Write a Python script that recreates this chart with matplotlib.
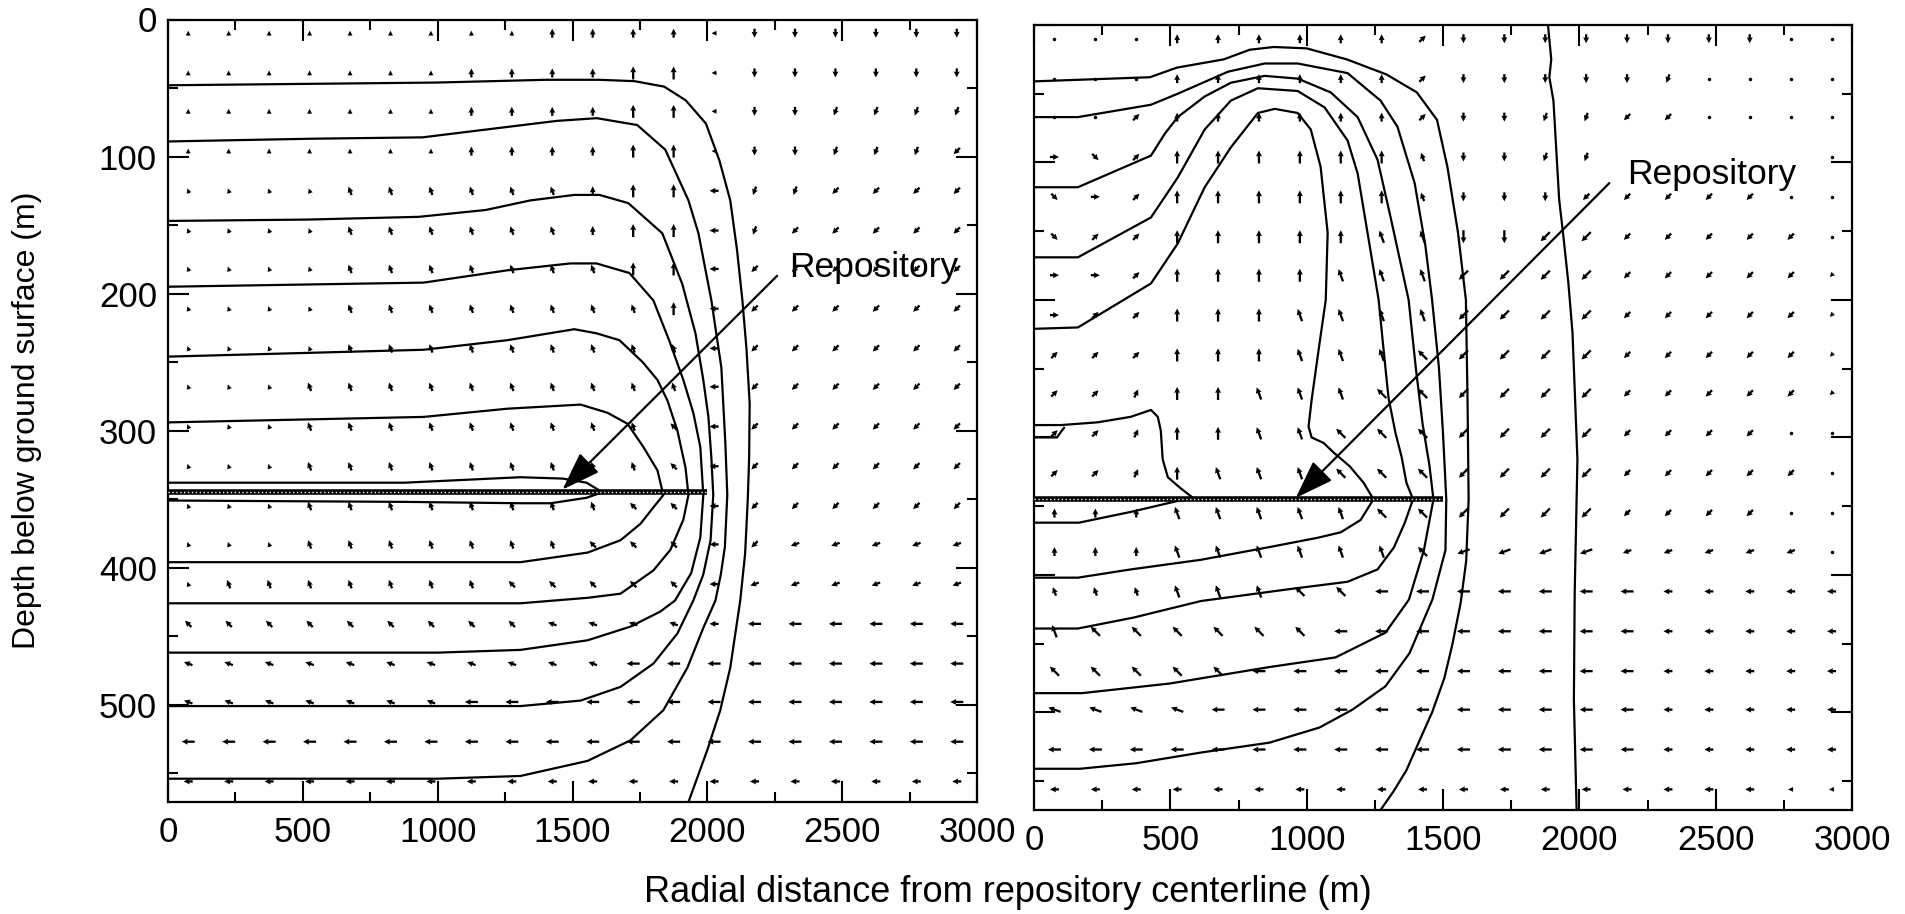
import numpy as np
import matplotlib
matplotlib.use("Agg")
import matplotlib.pyplot as plt

plt.rcParams['font.family'] = ['Liberation Sans', 'DejaVu Sans']

# =====================
# AXES / GRID DATA
# =====================
x_ticks = [0, 500, 1000, 1500, 2000, 2500, 3000]
y_ticks = [0, 100, 200, 300, 400, 500]
depth_max = 571
repository_depth = 345
repository_left_x = [0, 2000]
repository_right_x = [0, 1500]

arrow_x = [75, 225, 375, 525, 675, 825, 975, 1125, 1275, 1425,
           1575, 1725, 1875, 2025, 2175, 2325, 2475, 2625, 2775, 2925]
arrow_y = [10, 39, 67, 96, 125, 154, 182, 211, 240, 268,
           297, 326, 355, 383, 412, 441, 470, 498, 527, 556]

# direction codes (numpad style) -> screen angle in degrees
DIRS = {'6': 0, '9': 45, 'f': 65, '8': 90, 'a': 110, '7': 135, 'b': 160,
        '4': 180, 'c': 200, '1': 225, 'e': 250, '2': 270, '3': 315}
SIZES = {'1': 5, '2': 9, '3': 13}

left_dirs = [
    "88888888888884222222",
    "88888888888884222222",
    "8888888888888422eeee",
    "8888888888888422eee1",
    "aaaaaaaaaa8884ee1111",
    "aaaaaaaaaa8884e11111",
    "aaaaaaaaaaa884111111",
    "aaaaaaaaaaaa84111111",
    "aaaaaaaaaaaaa4111111",
    "aaaaaaaaaaaaa4111111",
    "aaaaaaaaaaaa74111111",
    "aaaaaaaaaaaa74111111",
    "aaaaaaaaaaa774111111",
    "aaaaaaaaaa77741ccccc",
    "aaaaaaaa777774cccccc",
    "777777777bbbb4444444",
    "bbbbbbbbbbb444444444",
    "bbbbbbb4444444444444",
    "44444444444444444444",
    "44444444444444444444",
]
left_sizes = [
    "11111111122221222222",
    "11111112222331222222",
    "11111112222331222222",
    "11111112222331222222",
    "11112222222332222222",
    "11112222222332222222",
    "11112222222332222222",
    "11112222222232222222",
    "11112222222222222222",
    "11122222222222222222",
    "11122222222222222222",
    "11122222222222222222",
    "11122222222222222222",
    "11122222222222222222",
    "12222222222222222222",
    "22222222222222333333",
    "22222222222333333333",
    "22222223333333333333",
    "33333333333333333333",
    "22222222222222222222",
]

right_dirs = [
    "...888888922222222..",
    "...888888922222e....",
    "..9888888922ee11....",
    "639888888a22ee     .",
    "369888888a22211111..",
    "39988888aa221111111.",
    "6698888aaa1111111111",
    "699888aaaa1111111111",
    "999888aaa71111111111",
    "99f88aaa771111111111",
    "99f88aa77711111111..",
    "99f8aaa777111111111.",
    "888aaaaa7711111111..",
    "888aaaaaa7ccccccccc.",
    "aaaaaa77444444444444",
    "a7777774444444444444",
    "77777444444444444444",
    "bbbb4444444444444444",
    "44444444444444444444",
    "44444444444444444444",
]
right_sizes = [
    "11122222222222222211",
    "11122222222222221111",
    "11222222222222221111",
    "22233333322222111112",
    "22233333322222222211",
    "22233333333333222221",
    "22233333333333222221",
    "22233333333333222221",
    "22233333333333222221",
    "22233333333333222221",
    "22233333333333222211",
    "22233333333333222221",
    "22233333333333222211",
    "22233333333333222221",
    "22233333333333322222",
    "33333333333333322222",
    "33333333333333322222",
    "33333333333333322222",
    "33333333333333322222",
    "22222222222222222211",
]

# =====================
# CONTOURS - LEFT PANEL (x m, depth m)
# =====================
left_line_48 = [(0, 48), (500, 47), (1000, 46), (1400, 44), (1600, 44), (1730, 45),
                (1840, 49), (1920, 59), (1995, 76), (2045, 103), (2085, 132), (2110, 168),
                (2130, 205), (2145, 240), (2157, 280), (2155, 320), (2150, 350), (2140, 390),
                (2122, 424), (2085, 473), (2048, 504), (2000, 533), (1965, 552), (1930, 571)]
left_line_89 = [(0, 89), (530, 87), (944, 86), (1026, 84), (1275, 78), (1441, 74), (1590, 72),
                (1740, 77), (1844, 95), (1930, 132), (1967, 156), (2015, 205), (2052, 254),
                (2067, 310), (2074, 347), (2065, 385), (2050, 405), (2030, 424), (1985, 444),
                (1926, 473), (1837, 504), (1715, 526), (1556, 541), (1307, 552), (1000, 554),
                (0, 554)]
left_line_147 = [(0, 147), (515, 146), (930, 144), (1178, 139), (1344, 132), (1507, 128),
                 (1600, 128), (1707, 134), (1833, 156), (1907, 193), (1956, 229), (1985, 263),
                 (2004, 290), (2015, 320), (2022, 347), (2012, 380), (1985, 405), (1948, 424),
                 (1889, 448), (1800, 470), (1678, 487), (1530, 497), (1307, 501), (0, 501)]
left_line_195 = [(0, 195), (948, 192), (1259, 183), (1492, 178), (1589, 178), (1711, 185),
                 (1800, 205), (1860, 235), (1911, 263), (1948, 287), (1974, 312), (1985, 347),
                 (1974, 378), (1940, 404), (1880, 424), (1826, 432), (1715, 443), (1556, 453),
                 (1307, 460), (1000, 462), (0, 462)]
left_line_246 = [(0, 246), (948, 241), (1259, 234), (1507, 226), (1589, 229), (1674, 234),
                 (1760, 250), (1815, 263), (1852, 278), (1889, 300), (1919, 327), (1930, 347),
                 (1911, 365), (1863, 387), (1800, 402), (1678, 419), (1556, 422), (1307, 426),
                 (0, 426)]
left_line_294 = [(0, 294), (948, 290), (1259, 284), (1530, 281), (1630, 287), (1704, 295),
                 (1763, 312), (1815, 329), (1837, 347), (1800, 356), (1752, 368), (1678, 380),
                 (1556, 389), (1307, 396), (0, 396)]
left_line_338 = [(0, 338), (877, 338), (1307, 334), (1463, 335), (1552, 338), (1611, 345),
                 (1552, 349), (1419, 353), (1307, 353), (877, 352), (0, 351)]

# =====================
# CONTOURS - RIGHT PANEL (x m, depth m)
# =====================
right_line_2000 = [(1885, 0), (1897, 25), (1890, 38), (1905, 55), (1926, 127), (1940, 151),
                   (1960, 188), (1975, 224), (1993, 316), (1990, 345), (1983, 413),
                   (1980, 491), (1990, 571)]
right_line_41 = [(0, 41), (425, 38), (524, 31), (696, 25), (791, 18), (879, 16), (1000, 17),
                 (1147, 25), (1293, 36), (1404, 49), (1478, 69), (1516, 103), (1555, 151),
                 (1584, 200), (1590, 273), (1594, 345), (1585, 390), (1565, 420), (1535, 450),
                 (1505, 475), (1460, 500), (1415, 520), (1366, 542), (1320, 557), (1271, 571)]
right_line_67 = [(0, 67), (161, 67), (429, 58), (527, 50), (711, 34), (846, 28), (967, 28),
                 (1150, 35), (1271, 55), (1333, 74), (1396, 115), (1435, 160), (1460, 200),
                 (1485, 249), (1500, 297), (1512, 345), (1509, 382), (1461, 418), (1377, 457),
                 (1289, 481), (1168, 498), (1047, 511), (864, 522), (619, 529), (374, 537),
                 (169, 541), (0, 541)]
right_line_118 = [(0, 118), (161, 118), (429, 95), (480, 79), (527, 67), (626, 52), (722, 42),
                  (846, 37), (967, 39), (1088, 49), (1187, 67), (1260, 98), (1308, 140),
                  (1374, 200), (1400, 249), (1425, 290), (1450, 320), (1465, 345), (1430, 382),
                  (1375, 418), (1289, 442), (1106, 460), (864, 467), (498, 479), (176, 486),
                  (0, 486)]
right_line_169 = [(0, 169), (161, 169), (429, 140), (527, 111), (626, 76), (722, 55), (821, 46),
                  (967, 48), (1066, 60), (1150, 84), (1187, 108), (1234, 164), (1264, 200),
                  (1282, 236), (1300, 271), (1326, 297), (1348, 314), (1366, 333), (1390, 345),
                  (1360, 362), (1320, 380), (1260, 396), (1150, 405), (950, 410), (612, 419),
                  (366, 431), (161, 439), (0, 439)]
right_line_221 = [(0, 221), (161, 220), (429, 188), (527, 159), (626, 118), (722, 89), (821, 64),
                  (883, 61), (967, 64), (1015, 76), (1051, 103), (1077, 151), (1070, 200),
                  (1044, 236), (1018, 273), (1007, 292), (1018, 300), (1062, 304), (1099, 311),
                  (1158, 321), (1209, 333), (1245, 345), (1198, 360), (1125, 369), (1040, 373),
                  (857, 380), (612, 389), (355, 396), (161, 402), (0, 402)]
right_line_291 = [(0, 291), (99, 291), (234, 289), (355, 285), (429, 280), (454, 285), (465, 295),
                  (472, 316), (491, 329), (538, 337), (590, 345), (531, 346), (359, 354),
                  (165, 362), (0, 362)]
right_notch = [(0, 300), (84, 300), (110, 293)]

left_lines = [left_line_48, left_line_89, left_line_147, left_line_195,
              left_line_246, left_line_294, left_line_338]
right_lines = [right_line_2000, right_line_41, right_line_67, right_line_118,
               right_line_169, right_line_221, right_line_291, right_notch]

# =====================
# FIGURE
# =====================
fig = plt.figure(figsize=(19.05, 9.14), dpi=100)
ax_l = fig.add_axes([168 / 1905, 112 / 914, 809 / 1905, 782.5 / 914])
ax_r = fig.add_axes([1034 / 1905, 104 / 914, 818 / 1905, 785 / 914])


def draw_arrows(ax, dir_rows, size_rows):
    X, Y, U, V = [], [], [], []
    dx, dy = [], []
    for i, (drow, srow) in enumerate(zip(dir_rows, size_rows)):
        for j, (d, s) in enumerate(zip(drow, srow)):
            if d == ' ':
                continue
            if d == '.':
                dx.append(arrow_x[j])
                dy.append(arrow_y[i])
                continue
            ang = np.radians(DIRS[d])
            L = SIZES[s]
            X.append(arrow_x[j])
            Y.append(arrow_y[i])
            U.append(L * np.cos(ang))
            V.append(L * np.sin(ang))
    ax.quiver(X, Y, U, V, angles='uv', scale_units='dots', scale=1, units='dots',
              width=2.3, headwidth=2.6, headlength=2.6, headaxislength=2.4,
              minlength=0.5, pivot='middle', color='k', zorder=3)
    ax.plot(dx, dy, 'k.', ms=3, zorder=3)


def style_axes(ax, show_ylabels):
    ax.set_xlim(0, 3000)
    ax.set_ylim(depth_max, 0)
    ax.set_xticks(x_ticks)
    ax.set_xticks([250, 750, 1250, 1750, 2250, 2750], minor=True)
    ax.set_yticks(y_ticks)
    ax.set_yticks([50, 150, 250, 350, 450, 550], minor=True)
    ax.tick_params(which='both', direction='in', top=True, right=True, width=1.5,
                   labelsize=25)
    ax.tick_params(which='major', length=15)
    ax.tick_params(which='minor', length=7)
    ax.tick_params(axis='x', pad=10)
    ax.tick_params(axis='y', pad=8, labelleft=show_ylabels)
    for sp in ax.spines.values():
        sp.set_linewidth(1.6)


for ax, lines, dirs, sizes, rep_x in [
        (ax_l, left_lines, left_dirs, left_sizes, repository_left_x),
        (ax_r, right_lines, right_dirs, right_sizes, repository_right_x)]:
    for line in lines:
        xs = [p[0] for p in line]
        ys = [p[1] for p in line]
        ax.plot(xs, ys, color='k', lw=1.6, solid_joinstyle='round', zorder=2)
    draw_arrows(ax, dirs, sizes)
    # repository: beaded thick line
    ax.plot(rep_x, [repository_depth] * 2, color='k', lw=4.0, solid_capstyle='butt', zorder=4)
    ax.plot(rep_x, [repository_depth] * 2, color='white', lw=1.0,
            linestyle=(0, (1.0, 1.8)), zorder=5)

style_axes(ax_l, True)
style_axes(ax_r, False)

# Repository annotations
arrow_kw = dict(arrowstyle='-|>,head_length=0.8,head_width=0.28', lw=1.6, color='k',
                mutation_scale=30, shrinkA=0, shrinkB=0)
ax_l.annotate('', xy=(1463, 343), xytext=(2259, 187), arrowprops=arrow_kw, zorder=6)
ax_l.text(2304, 188, 'Repository', fontsize=25.5, ha='left', va='baseline')
ax_r.annotate('', xy=(960, 344), xytext=(2110, 115), arrowprops=arrow_kw, zorder=6)
ax_r.text(2176, 116, 'Repository', fontsize=25.5, ha='left', va='baseline')

fig.text(0.529, 12 / 914, 'Radial distance from repository centerline (m)',
         fontsize=26, ha='center', va='baseline')
fig.text(27 / 1905, 0.54, 'Depth below ground surface (m)', fontsize=23,
         rotation=90, ha='center', va='center')

fig.savefig("out.png", dpi=100)
